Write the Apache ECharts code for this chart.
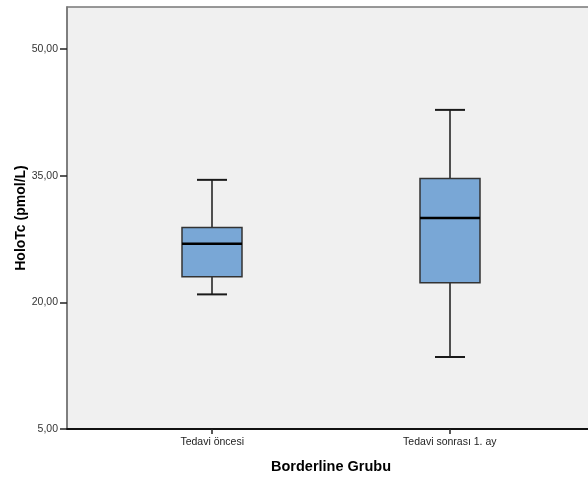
<!DOCTYPE html>
<html>
<head>
<meta charset="utf-8">
<script src="https://cdn.jsdelivr.net/npm/echarts@6/dist/echarts.min.js"></script>
<style>
html,body{margin:0;padding:0;background:#fff;}
#chart{width:588px;height:481px;}
</style>
</head>
<body>
<div id="chart"></div>
<script>
// Data
var categories = ['Tedavi öncesi', 'Tedavi sonrası 1. ay'];
var categoryPositions = [1, 2];
var lowWhisker = [20.95, 13.53];
var q1 = [23.04, 22.33];
var median = [26.95, 29.99];
var q3 = [28.88, 34.69];
var highWhisker = [34.52, 42.81];
var yTicks = [5, 20, 35, 50];

var boxData = categories.map(function (c, i) {
  return [categoryPositions[i], lowWhisker[i], q1[i], median[i], q3[i], highWhisker[i]];
});

var chart = echarts.init(document.getElementById('chart'), null, {renderer: 'canvas'});
var FONT = 'Liberation Sans, Arial, sans-serif';

function renderBox(params, api) {
  var x = api.value(0);
  var pLow = api.coord([x, api.value(1)]);
  var pQ1 = api.coord([x, api.value(2)]);
  var pMed = api.coord([x, api.value(3)]);
  var pQ3 = api.coord([x, api.value(4)]);
  var pHigh = api.coord([x, api.value(5)]);
  var cx = Math.round(pLow[0]);
  var hw = 30, cw = 15;
  var lineStyle = {stroke: '#1a1a1a', lineWidth: 1.5, fill: null};
  return {
    type: 'group',
    children: [
      {type: 'line', shape: {x1: cx, y1: pHigh[1], x2: cx, y2: pQ3[1]}, style: lineStyle},
      {type: 'line', shape: {x1: cx, y1: pQ1[1], x2: cx, y2: pLow[1]}, style: lineStyle},
      {type: 'line', shape: {x1: cx - cw, y1: pHigh[1], x2: cx + cw, y2: pHigh[1]}, style: {stroke: '#1a1a1a', lineWidth: 2}},
      {type: 'line', shape: {x1: cx - cw, y1: pLow[1], x2: cx + cw, y2: pLow[1]}, style: {stroke: '#1a1a1a', lineWidth: 2}},
      {type: 'rect', shape: {x: cx - hw, y: pQ3[1], width: 2 * hw, height: pQ1[1] - pQ3[1]},
        style: {fill: '#79a7d6', stroke: '#333', lineWidth: 1.5}},
      {type: 'line', shape: {x1: cx - hw, y1: pMed[1], x2: cx + hw, y2: pMed[1]}, style: {stroke: '#000', lineWidth: 2.5}}
    ]
  };
}

chart.setOption({
  animation: false,
  backgroundColor: '#ffffff',
  grid: {
    left: 67, top: 7, width: 528, bottom: 52,
    outerBoundsMode: 'none',
    containLabel: false,
    show: true, backgroundColor: '#f0f0f0', borderColor: '#777777', borderWidth: 1.5
  },
  xAxis: {
    type: 'value',
    min: 0.389, max: 2.611,
    name: 'Borderline Grubu',
    nameLocation: 'middle',
    nameGap: 30,
    nameMoveOverlap: false,
    nameTextStyle: {fontFamily: FONT, fontSize: 14.5, fontWeight: 'bold', color: '#000'},
    splitLine: {show: false},
    axisLine: {show: true, lineStyle: {color: '#111', width: 2}},
    axisTick: {show: true, length: 5, lineStyle: {color: '#222', width: 1.5}, customValues: categoryPositions},
    axisLabel: {
      customValues: categoryPositions,
      fontFamily: FONT, fontSize: 10.5, color: '#222', margin: 8,
      formatter: function (v) {
        var i = categoryPositions.indexOf(Math.round(v));
        return i >= 0 ? categories[i] : '';
      }
    }
  },
  yAxis: {
    type: 'value',
    min: 5, max: 55,
    name: 'HoloTc (pmol/L)',
    nameLocation: 'middle',
    nameGap: 39,
    nameMoveOverlap: false,
    nameTextStyle: {fontFamily: FONT, fontSize: 14, fontWeight: 'bold', color: '#000'},
    splitLine: {show: false},
    axisLine: {show: true, lineStyle: {color: '#777777', width: 1.5}},
    axisTick: {show: true, length: 7, lineStyle: {color: '#222', width: 1.5}, customValues: yTicks},
    axisLabel: {
      customValues: yTicks,
      fontFamily: FONT, fontSize: 10.5, color: '#333', margin: 9,
      formatter: function (v) { return v.toFixed(2).replace('.', ','); }
    }
  },
  series: [{
    type: 'custom',
    renderItem: renderBox,
    data: boxData,
    encode: {x: 0, y: [1, 2, 3, 4, 5]},
    clip: false
  }]
});
</script>
</body>
</html>
